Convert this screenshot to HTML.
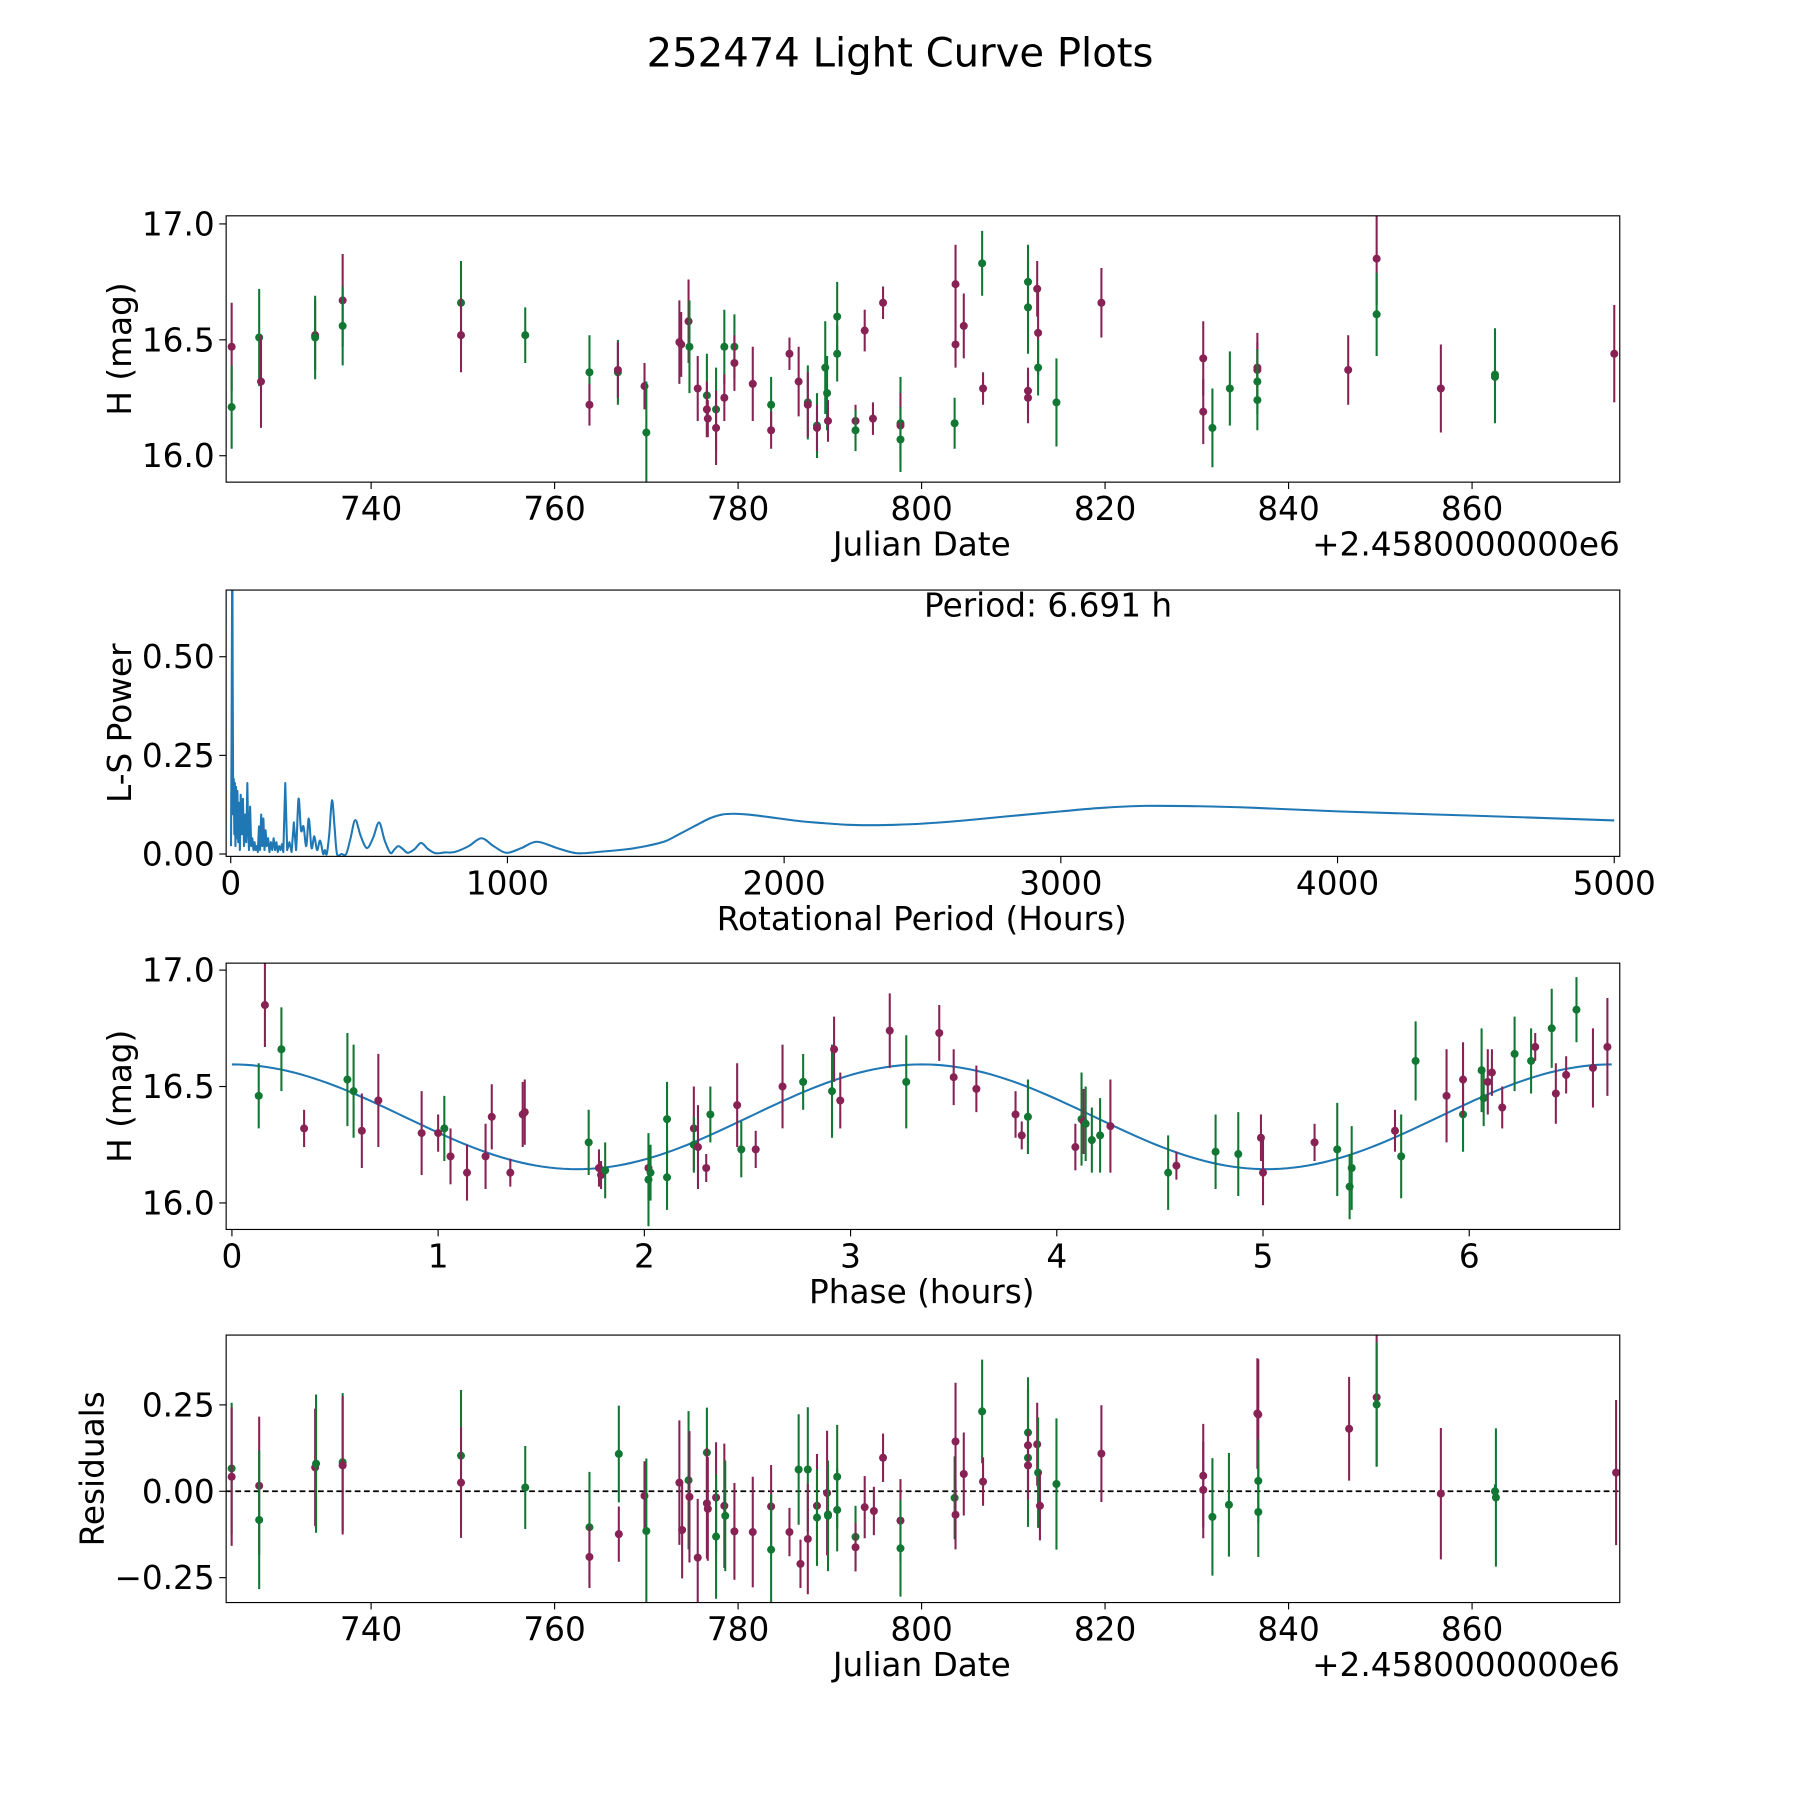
<!DOCTYPE html>
<html><head><meta charset="utf-8"><style>
html,body{margin:0;padding:0;background:#fff;}
svg{display:block;font-family:"DejaVu Sans","Liberation Sans",sans-serif;}
</style></head><body>
<svg id="fig" width="1800" height="1800" viewBox="0 0 1568 1568" xmlns="http://www.w3.org/2000/svg">
<rect width="1568" height="1568" fill="#fff"/>
<text x="784" y="58" font-size="35" text-anchor="middle">252474 Light Curve Plots</text>
</svg>
<script>
// ---------- Panel 1: light curve ----------
const dates1 = [724.8,724.8,727.8,728.0,733.9,733.9,736.9,736.9,749.8,749.8,756.8,763.8,763.8,766.9,766.9,769.8,770.0,773.6,773.8,774.6,774.7,775.6,776.6,776.6,776.7,777.6,777.6,778.5,778.5,779.6,779.6,781.6,783.6,783.6,785.6,786.6,787.6,787.6,788.6,788.6,789.5,789.7,789.8,790.8,790.8,792.8,792.8,793.8,794.7,795.8,797.7,797.7,797.7,803.6,803.7,803.7,804.6,806.6,806.7,811.6,811.6,811.6,811.6,812.6,812.7,812.7,814.7,819.6,830.7,830.7,831.7,833.6,836.6,836.6,836.6,836.6,846.5,849.6,849.6,856.6,862.5,862.5,875.5];
const mags1 = [16.47,16.21,16.51,16.32,16.52,16.51,16.67,16.56,16.66,16.52,16.52,16.36,16.22,16.36,16.37,16.30,16.10,16.49,16.48,16.58,16.47,16.29,16.26,16.20,16.16,16.20,16.12,16.47,16.25,16.47,16.40,16.31,16.22,16.11,16.44,16.32,16.23,16.22,16.13,16.12,16.38,16.27,16.15,16.60,16.44,16.15,16.11,16.54,16.16,16.66,16.14,16.13,16.07,16.14,16.74,16.48,16.56,16.83,16.29,16.75,16.64,16.28,16.25,16.72,16.53,16.38,16.23,16.66,16.42,16.19,16.12,16.29,16.38,16.37,16.32,16.24,16.37,16.85,16.61,16.29,16.35,16.34,16.44];
const errs1 = [0.19,0.18,0.21,0.2,0.15,0.18,0.2,0.17,0.18,0.16,0.12,0.16,0.09,0.14,0.12,0.1,0.22,0.18,0.14,0.18,0.2,0.14,0.18,0.12,0.08,0.18,0.16,0.16,0.1,0.14,0.12,0.16,0.12,0.08,0.07,0.15,0.16,0.14,0.14,0.1,0.2,0.16,0.09,0.15,0.12,0.07,0.09,0.09,0.07,0.07,0.2,0.14,0.14,0.11,0.17,0.1,0.14,0.14,0.07,0.16,0.2,0.1,0.11,0.12,0.18,0.12,0.19,0.15,0.16,0.14,0.17,0.16,0.15,0.12,0.14,0.13,0.15,0.2,0.18,0.19,0.2,0.2,0.21];
const cols1 = "mggmmgmggmggmgmmgmmmgmgmmgmgmgmmgmmmgmgmggmggmgmmmgmggmmmgmggmmmmggmmmggmmggmmgmggm";

// ---------- Panel 2: periodogram ----------
const periods2 = [1,3,5,6,7,9,11,13,15,17,19,21,24,27,30,33,36,40,44,48,52,56,60,63,66,70,74,78,82,86,90,94,98,102,106,110,114,118,122,126,130,135,140,145,150,155,160,165,170,175,180,185,190,197,204,212,220,228,236,245,254,263,273,282,292,302,312,323,334,340,347,356,366,375,384,400,417,433,450,470,492,514,536,556,577,592,606,623,640,664,688,714,740,775,809,860,906,950,996,1050,1106,1180,1251,1340,1431,1500,1569,1620,1680,1730,1776,1818,1870,1930,1983,2060,2146,2230,2300,2400,2500,2650,2800,3000,3150,3300,3500,3700,4000,4500,5000];
const power2 = [0.02,0.3,0.7,0.75,0.45,0.1,0.19,0.05,0.18,0.02,0.17,0.04,0.16,0.03,0.13,0.01,0.15,0.05,0.14,0.02,0.1,0.03,0.18,0.06,0.01,0.12,0.02,0.04,0.01,0.03,0.01,0.02,0.005,0.07,0.01,0.1,0.02,0.09,0.01,0.06,0.02,0.04,0.005,0.03,0.01,0.04,0.01,0.03,0.005,0.02,0.01,0.025,0.005,0.18,0.01,0.03,0.005,0.08,0.01,0.14,0.06,0.07,0.02,0.09,0.015,0.045,0.01,0.034,0.0,0.01,0.0,0.05,0.136,0.07,0.0,0.0,0.0,0.04,0.086,0.045,0.015,0.04,0.08,0.035,0.003,0.012,0.02,0.012,0.003,0.012,0.028,0.012,0.002,0.004,0.005,0.02,0.04,0.02,0.003,0.015,0.031,0.015,0.002,0.006,0.012,0.02,0.032,0.05,0.072,0.09,0.1,0.102,0.1,0.095,0.09,0.083,0.078,0.074,0.073,0.074,0.077,0.085,0.095,0.108,0.117,0.122,0.121,0.117,0.108,0.097,0.085];

// ---------- Panel 3: phased ----------
const phase3 = [0.13,0.16,0.24,0.35,0.56,0.59,0.63,0.71,0.92,1.00,1.03,1.06,1.14,1.23,1.26,1.35,1.41,1.42,1.73,1.78,1.79,1.81,2.02,2.02,2.03,2.11,2.11,2.24,2.24,2.26,2.30,2.32,2.45,2.47,2.54,2.67,2.77,2.91,2.92,2.95,3.19,3.27,3.43,3.50,3.61,3.80,3.83,3.86,4.09,4.12,4.13,4.14,4.17,4.21,4.26,4.54,4.58,4.77,4.88,4.99,5.00,5.25,5.36,5.42,5.43,5.64,5.67,5.74,5.89,5.97,5.97,6.06,6.07,6.09,6.11,6.16,6.22,6.30,6.32,6.40,6.42,6.47,6.52,6.60,6.67];
const mags3 = [16.46,16.85,16.66,16.32,16.53,16.48,16.31,16.44,16.30,16.30,16.32,16.20,16.13,16.20,16.37,16.13,16.38,16.39,16.26,16.15,16.12,16.14,16.15,16.10,16.13,16.36,16.11,16.32,16.25,16.24,16.15,16.38,16.42,16.23,16.23,16.50,16.52,16.48,16.66,16.44,16.74,16.52,16.73,16.54,16.49,16.38,16.29,16.37,16.24,16.36,16.35,16.34,16.27,16.29,16.33,16.13,16.16,16.22,16.21,16.28,16.13,16.26,16.23,16.07,16.15,16.31,16.20,16.61,16.46,16.38,16.53,16.57,16.45,16.52,16.56,16.41,16.64,16.61,16.67,16.75,16.47,16.55,16.83,16.58,16.67];
const errs3 = [0.14,0.18,0.18,0.08,0.2,0.2,0.16,0.2,0.18,0.08,0.14,0.12,0.12,0.14,0.14,0.06,0.14,0.14,0.14,0.08,0.06,0.12,0.14,0.2,0.12,0.16,0.14,0.18,0.12,0.18,0.06,0.12,0.18,0.12,0.08,0.18,0.12,0.2,0.14,0.12,0.16,0.2,0.12,0.12,0.1,0.1,0.06,0.16,0.1,0.2,0.14,0.16,0.14,0.16,0.2,0.16,0.06,0.16,0.18,0.1,0.14,0.08,0.2,0.14,0.18,0.09,0.18,0.17,0.2,0.16,0.16,0.18,0.12,0.14,0.1,0.09,0.16,0.14,0.06,0.17,0.13,0.08,0.14,0.17,0.21];
const cols3 = "gmgmggmmmmgmmmmmmmgmmgmggggmgmmgmgmmggmmmgmmmmmgmgmgggmgmggmmmgggmggmgmggmmmggmgmmgmm";
const fitMean = [16.37];
const fitAmp = [0.225];
const fitPeriod = [6.691];

// ---------- Panel 4: residuals ----------
const dates4 = [724.8,724.8,727.8,727.8,733.9,734.0,736.9,736.9,749.8,749.8,756.8,763.8,763.8,767.0,767.0,769.8,770.0,773.6,773.9,774.6,774.7,775.6,776.6,776.6,776.7,777.6,777.6,778.5,778.6,779.6,781.6,783.6,783.6,785.6,786.6,786.8,787.6,787.6,788.6,788.6,789.7,789.8,789.8,790.8,790.8,792.8,792.8,793.8,794.8,795.8,797.7,797.7,803.6,803.7,803.7,804.6,806.6,806.7,811.6,811.6,811.6,811.6,812.6,812.7,812.9,814.7,819.6,830.7,830.7,831.7,833.5,836.6,836.7,836.7,836.7,846.6,849.6,849.6,856.6,862.5,862.6,875.7];
const res4 = [0.066,0.042,0.016,-0.083,0.069,0.080,0.084,0.075,0.103,0.025,0.011,-0.104,-0.19,0.108,-0.124,-0.013,-0.115,0.025,-0.112,0.032,-0.016,-0.192,0.112,-0.035,-0.051,-0.018,-0.131,-0.042,-0.071,-0.116,-0.118,-0.044,-0.169,-0.118,0.063,-0.21,0.063,-0.138,-0.042,-0.076,-0.005,-0.067,-0.071,0.042,-0.054,-0.132,-0.162,-0.046,-0.057,0.097,-0.085,-0.165,-0.019,0.144,-0.068,0.050,0.231,0.028,0.170,0.133,0.097,0.075,0.136,0.054,-0.042,0.021,0.109,0.045,0.004,-0.074,-0.039,0.225,0.222,0.030,-0.060,0.181,0.272,0.251,-0.007,0.0,-0.018,0.054];
const errs4 = [0.19,0.2,0.2,0.2,0.17,0.2,0.2,0.2,0.19,0.16,0.12,0.16,0.09,0.14,0.08,0.1,0.21,0.18,0.14,0.2,0.19,0.17,0.13,0.16,0.15,0.16,0.18,0.18,0.16,0.14,0.16,0.12,0.16,0.07,0.16,0.07,0.18,0.16,0.15,0.14,0.18,0.11,0.16,0.15,0.12,0.09,0.07,0.09,0.07,0.07,0.12,0.14,0.12,0.17,0.1,0.12,0.15,0.07,0.16,0.16,0.2,0.1,0.12,0.16,0.1,0.19,0.14,0.15,0.14,0.17,0.15,0.16,0.16,0.12,0.13,0.15,0.2,0.18,0.19,0.02,0.2,0.21];
const cols4 = "gmmgmggmgmggmgmmgmmgmmgmmmgmgmmmgmgmgmmgmgggggmmmmmggmmmgmgmgmmgmgmmmggmmggmmgmggm";

const xTicksJD = [740,760,780,800,820,840,860];
const yTicksMag = [16.0,16.5,17.0];
const xTicksPer = [0,1000,2000,3000,4000,5000];
const yTicksPow = [0.0,0.25,0.5];
const xTicksPh = [0,1,2,3,4,5,6];
const yTicksRes = [-0.25,0.0,0.25];

const NS = "http://www.w3.org/2000/svg";
const fig = document.getElementById('fig');
const MAROON = "#882255", GREEN = "#117733", BLUE = "#1f77b4";
const FS = 28.5;
function mk(tag, attrs, parent) {
  const e = document.createElementNS(NS, tag);
  for (const k in attrs) e.setAttribute(k, attrs[k]);
  (parent || fig).appendChild(e);
  return e;
}
function scale(d0, d1, r0, r1) { return v => r0 + (v - d0) / (d1 - d0) * (r1 - r0); }

const L = 197, R = 1411;
function panel(name, top, bot, xd, yd, xt, yt, xfmt, yfmt, xlabel, ylabel, ylabX) {
  const g = mk('g', {});
  
  
  const sx = scale(xd[0], xd[1], L, R), sy = scale(yd[0], yd[1], bot, top);
  const clipId = name + '-clip';
  const cp = mk('clipPath', {id: clipId}, g);
  mk('rect', {x: L, y: top, width: R - L, height: bot - top}, cp);
  const plot = mk('g', {'clip-path': 'url(#' + clipId + ')'}, g);
  
  
  xt.forEach(v => {
    const x = sx(v);
    const t = mk('line', {x1: x, x2: x, y1: bot, y2: bot + 6, stroke: '#000', 'stroke-width': 1}, g);
    
    
    const tx = mk('text', {x: x, y: bot + 33, 'font-size': FS, 'text-anchor': 'middle'}, g);
    
    
    tx.textContent = xfmt(v);
  });
  yt.forEach(v => {
    const y = sy(v);
    const t = mk('line', {x1: L - 6, x2: L, y1: y, y2: y, stroke: '#000', 'stroke-width': 1}, g);
    
    
    const tx = mk('text', {x: L - 10, y: y + 10, 'font-size': FS, 'text-anchor': 'end'}, g);
    
    
    tx.textContent = yfmt(v);
  });
  const xl = mk('text', {x: 803, y: bot + 64, 'font-size': FS, 'text-anchor': 'middle'}, g);
  
  
  xl.textContent = xlabel;
  const cy = (top + bot) / 2;
  const yl = mk('text', {x: ylabX, y: cy, 'font-size': FS, 'text-anchor': 'middle', transform: 'rotate(-90 ' + ylabX + ' ' + cy + ')'}, g);
  
  
  yl.textContent = ylabel;
  return {g, plot, sx, sy, top, bot};
}
function frame(p) {
  const f = mk('rect', {x: L, y: p.top, width: R - L, height: p.bot - p.top, fill: 'none', stroke: '#000', 'stroke-width': 1}, p.g);
  
  
}
function offsetLabel(p) {
  const t = mk('text', {x: R, y: p.bot + 64, 'font-size': FS, 'text-anchor': 'end'}, p.g);
  
  
  t.textContent = '+2.4580000000e6';
}
function errPoints(p, xs, ys, es, cs) {
  xs.forEach((xv, i) => {
    const c = (cs[i] === 'm') ? MAROON : GREEN;
    const x = p.sx(xv), y = p.sy(ys[i]);
    const b = mk('line', {x1: x, x2: x, y1: p.sy(ys[i] + es[i]), y2: p.sy(ys[i] - es[i]), stroke: c, 'stroke-width': 1.8}, p.plot);
    
    
    const d = mk('circle', {cx: x, cy: y, r: 3.5, fill: c}, p.plot);
    
    
  });
}
const f1 = v => v.toFixed(1), f0 = v => String(v), f2 = v => (v < 0 ? '\u2212' : '') + Math.abs(v).toFixed(2);

// Panel 1
const p1 = panel('light-curve-panel', 188, 420, [724.2, 876.1], [15.886, 17.035], xTicksJD, yTicksMag, f0, f1, 'Julian Date', 'H (mag)', 114);
errPoints(p1, dates1, mags1, errs1, cols1);
frame(p1); offsetLabel(p1);

// Panel 2
const p2 = panel('periodogram-panel', 514, 746, [-16.6, 5020], [-0.006, 0.669], xTicksPer, yTicksPow, f0, f2, 'Rotational Period (Hours)', 'L-S Power', 114);
const pts2 = periods2.map((pv, i) => [p2.sx(pv), p2.sy(power2[i])]);
let d2 = 'M' + pts2[0][0].toFixed(2) + ' ' + pts2[0][1].toFixed(2);
for (let i = 1; i < pts2.length; i++) {
  const p0 = pts2[Math.max(i - 2, 0)], a = pts2[i - 1], b = pts2[i], p3_ = pts2[Math.min(i + 1, pts2.length - 1)];
  if (periods2[i] < 240) { d2 += 'L' + b[0].toFixed(2) + ' ' + b[1].toFixed(2); continue; }
  const c1 = [a[0] + (b[0] - p0[0]) / 6, a[1] + (b[1] - p0[1]) / 6];
  const c2 = [b[0] - (p3_[0] - a[0]) / 6, b[1] - (p3_[1] - a[1]) / 6];
  d2 += 'C' + c1[0].toFixed(2) + ' ' + c1[1].toFixed(2) + ' ' + c2[0].toFixed(2) + ' ' + c2[1].toFixed(2) + ' ' + b[0].toFixed(2) + ' ' + b[1].toFixed(2);
}
const ln2 = mk('path', {d: d2, fill: 'none', stroke: BLUE, 'stroke-width': 1.8, 'stroke-linejoin': 'round'}, p2.plot);


frame(p2);
const per = mk('text', {x: 913, y: 537, 'font-size': FS, 'text-anchor': 'middle'}, p2.g);


per.textContent = 'Period: ' + fitPeriod[0].toFixed(3) + ' h';

// Panel 3
const p3 = panel('phased-curve-panel', 839, 1071, [-0.028, 6.73], [15.886, 17.03], xTicksPh, yTicksMag, f0, f1, 'Phase (hours)', 'H (mag)', 114);
let d3 = '';
for (let k = 0; k <= 200; k++) {
  const ph = fitPeriod[0] * k / 200;
  const m = fitMean[0] + fitAmp[0] * Math.cos(2 * Math.PI * 2 * ph / fitPeriod[0]);
  d3 += (k ? 'L' : 'M') + p3.sx(ph).toFixed(2) + ' ' + p3.sy(m).toFixed(2);
}
const ln3 = mk('path', {d: d3, fill: 'none', stroke: BLUE, 'stroke-width': 1.8}, p3.plot);


errPoints(p3, phase3, mags3, errs3, cols3);
frame(p3);

// Panel 4
const p4 = panel('residuals-panel', 1163, 1396, [724.2, 876.1], [-0.322, 0.452], xTicksJD, yTicksRes, f0, f2, 'Julian Date', 'Residuals', 90);
const z = mk('line', {x1: L, x2: R, y1: p4.sy(0), y2: p4.sy(0), stroke: '#000', 'stroke-width': 1.5, 'stroke-dasharray': '5 3'}, p4.plot);


errPoints(p4, dates4, res4, errs4, cols4);
frame(p4); offsetLabel(p4);
</script>
</body></html>
